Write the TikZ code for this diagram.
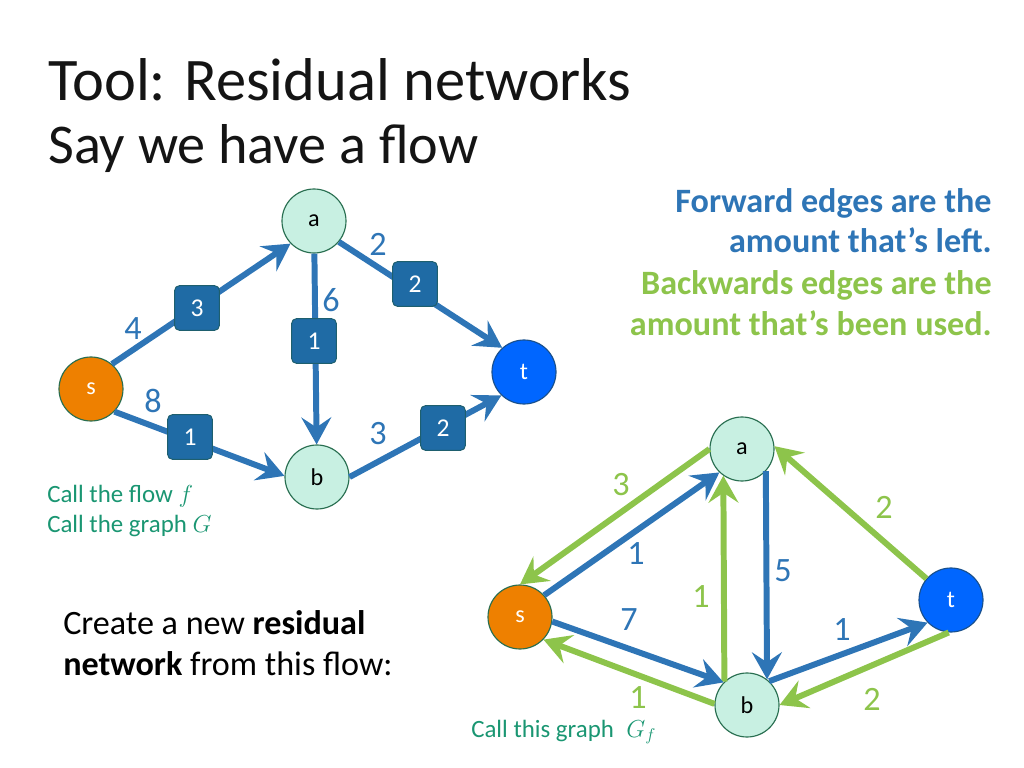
\documentclass[tikz,border=0pt]{standalone}
\usepackage{fontspec}
\setmainfont{Carlito}
\usetikzlibrary{arrows.meta}
\definecolor{titlecol}{RGB}{20,20,20}
\definecolor{eblue}{RGB}{46,117,182}
\definecolor{boxblue}{RGB}{31,107,165}
\definecolor{boxborder}{RGB}{30,95,110}
\definecolor{egreen}{RGB}{141,196,75}
\definecolor{tealtxt}{RGB}{26,150,114}
\definecolor{mint}{RGB}{200,240,226}
\definecolor{vborder}{RGB}{40,110,80}
\definecolor{sorange}{RGB}{238,128,0}
\definecolor{tblue}{RGB}{0,102,255}
\definecolor{tborder}{RGB}{25,80,140}
\tikzset{
  vtx/.style={circle, draw=vborder, line width=0.8pt, minimum size=45pt, inner sep=0pt, fill=mint, font=\fontsize{17}{17}\selectfont},
  svtx/.style={vtx, fill=sorange, text=white},
  tvtx/.style={vtx, fill=tblue, draw=tborder, text=white},
  fwd/.style={draw=eblue, line width=4.2pt, -{Stealth[length=19pt,width=21pt,inset=7pt]}},
  bwd/.style={draw=egreen, line width=4.2pt, -{Stealth[length=19pt,width=21pt,inset=7pt]}},
  flowbox/.style={rounded corners=3.5pt, fill=boxblue, draw=boxborder, line width=0.7pt, minimum size=31.5pt, inner sep=0pt, text=white, font=\fontsize{18}{18}\selectfont},
  capnum/.style={inner sep=0pt, font=\fontsize{24}{24}\selectfont},
}
\begin{document}
\begin{tikzpicture}[x=0.703125pt, y=-0.703125pt]
\useasboundingbox (0,0) rectangle (1024,768);
% title
\node[anchor=base west, inner sep=0pt, text=titlecol, font=\fontsize{42.5}{42.5}\selectfont] (title) at (48,101) {Tool: Residual networks};
\node[anchor=base west, inner sep=0pt, text=titlecol, font=\fontsize{39.5}{39.5}\selectfont] (subtitle) at (48,164) {Say we have a flow};
% right text
\node[anchor=base east, align=right, inner sep=0pt, text=eblue, font=\fontsize{24}{28.8}\selectfont\bfseries] (fwdtxt) at (992,253) {Forward edges are the\\amount that’s left.};
\node[anchor=base east, align=right, inner sep=0pt, text=egreen, font=\fontsize{24}{28.8}\selectfont\bfseries] (bwdtxt) at (992,335) {Backwards edges are the\\amount that’s been used.};
% top graph
\node[vtx] (a1) at (314,221) {a};
\node[svtx] (s1) at (91,389) {s};
\node[tvtx] (t1) at (524,372) {t};
\node[vtx] (b1) at (317,477) {b};
\draw[fwd] (s1.50) -- (a1.224);
\draw[fwd] (a1) -- (b1);
\draw[fwd] (a1.-40) -- (t1.132);
\draw[fwd] (s1.-44) -- (b1.178);
\draw[fwd] (b1.0) -- (t1.226);
\node[flowbox] (f1) at (197,308) {3};
\node[flowbox] (f2) at (314,341) {1};
\node[flowbox] (f3) at (415,284) {2};
\node[flowbox] (f4) at (190,437) {1};
\node[flowbox] (f5) at (443,428) {2};
\node[capnum, text=eblue] (c1) at (133,329) {4};
\node[capnum, text=eblue] (c2) at (378,244) {2};
\node[capnum, text=eblue] (c3) at (331,300) {6};
\node[capnum, text=eblue] (c4) at (153,401) {8};
\node[capnum, text=eblue] (c5) at (378,434) {3};
% left texts
\node[anchor=west, inner sep=0pt, text=tealtxt, font=\fontsize{17.5}{17.5}\selectfont] (callf) at (47,496) {Call the flow $f$};
\node[anchor=west, inner sep=0pt, text=tealtxt, font=\fontsize{17.5}{17.5}\selectfont] (callg) at (47,526) {Call the graph $G$};
\node[anchor=base west, align=left, inner sep=0pt, text=black, font=\fontsize{24}{28.8}\selectfont] (create) at (63,675) {Create a new \textbf{residual}\\\textbf{network} from this flow:};
% bottom graph
\node[vtx] (a2) at (742,449) {a};
\node[svtx] (s2) at (520,617) {s};
\node[tvtx] (t2) at (951,600) {t};
\node[vtx] (b2) at (747,705) {b};
\draw[bwd] (a2.180) -- (s2.90);
\draw[fwd] (s2.42) -- (a2.226);
\draw[bwd] (b2.134) -- (a2.235);
\draw[fwd] (a2.317) -- (b2.52);
\draw[bwd] (t2.139) -- (a2.5);
\draw[fwd] (s2.-8) -- (b2.136);
\draw[bwd] (b2.178) -- (s2.-44);
\draw[fwd] (b2.47) -- (t2.224);
\draw[bwd] (t2.266) -- (b2.0);
\node[capnum, text=egreen] (r1) at (621,485) {3};
\node[capnum, text=eblue] (r2) at (636,554) {1};
\node[capnum, text=egreen] (r3) at (701,597) {1};
\node[capnum, text=eblue] (r4) at (783,571) {5};
\node[capnum, text=eblue] (r5) at (629,620) {7};
\node[capnum, text=egreen] (r6) at (884,507) {2};
\node[capnum, text=eblue] (r7) at (842,630) {1};
\node[capnum, text=egreen] (r8) at (638,698) {1};
\node[capnum, text=egreen] (r9) at (872,699) {2};
\node[anchor=west, inner sep=0pt, text=tealtxt, font=\fontsize{17.5}{17.5}\selectfont] (callgf) at (471,732) {Call this graph\enspace$G_f$};
\end{tikzpicture}
\end{document}
